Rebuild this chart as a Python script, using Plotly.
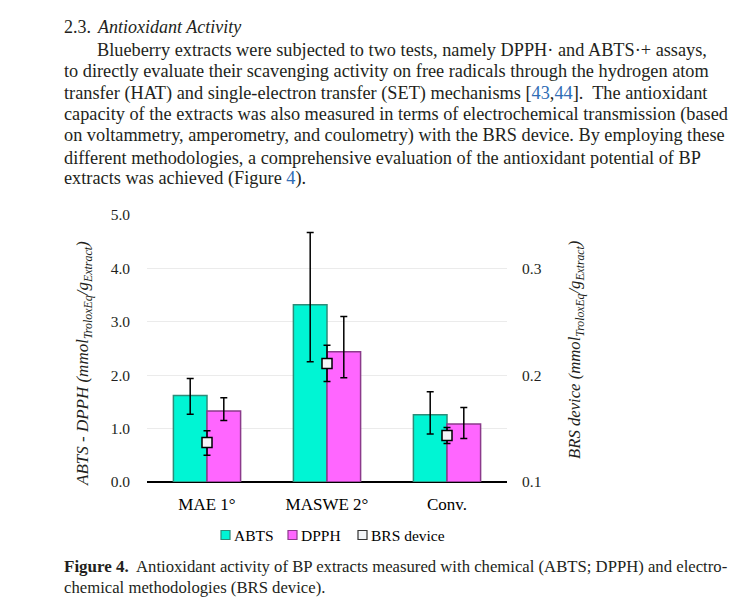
import plotly.graph_objects as go

categories = ["MAE 1°", "MASWE 2°", "Conv."]
series_names = ["ABTS", "DPPH", "BRS device"]
abts = [1.62, 3.32, 1.26]
abts_err_plus = [0.32, 1.35, 0.43]
abts_err_minus = [0.35, 1.07, 0.36]
dpph = [1.33, 2.44, 1.085]
dpph_err_plus = [0.25, 0.66, 0.31]
dpph_err_minus = [0.18, 0.49, 0.27]
brs = [0.137, 0.211, 0.1436]
brs_err_plus = [0.011, 0.017, 0.0075]
brs_err_minus = [0.012, 0.017, 0.0075]
left_ticks = [0.0, 1.0, 2.0, 3.0, 4.0, 5.0]
right_ticks = [0.1, 0.2, 0.3]

# page is offset by the default 8px body margin
OFF = 8
W, H = 745 - OFF, 606 - OFF
X0, X1, YT, YB = 147, 507, 215, 482   # plot area in page pixels
SERIF = "Liberation Serif"
INK = "#231F20"
LINK = "#2F6DB5"
COL_ABTS, EDGE_ABTS = "#00F5D4", "#2E8B78"
COL_DPPH, EDGE_DPPH = "#FF66FF", "#8B3A8B"
COL_BRS = "#F3F5F8"


def px(x):
    return (x - X0) / (X1 - X0)


def py(y):
    return (YB - y) / (YB - YT)


fig = go.Figure()
fig.add_trace(go.Bar(
    x=categories, y=abts, name=series_names[0],
    marker=dict(color=COL_ABTS, line=dict(color=EDGE_ABTS, width=1.5)),
    error_y=dict(type="data", array=abts_err_plus, arrayminus=abts_err_minus,
                 color="black", thickness=1.5, width=3.5),
))
fig.add_trace(go.Bar(
    x=categories, y=dpph, name=series_names[1],
    marker=dict(color=COL_DPPH, line=dict(color=EDGE_DPPH, width=1.5)),
    error_y=dict(type="data", array=dpph_err_plus, arrayminus=dpph_err_minus,
                 color="black", thickness=1.5, width=3.5),
))
fig.add_trace(go.Scatter(
    x=categories, y=brs, name=series_names[2], yaxis="y2", mode="markers",
    marker=dict(symbol="square", size=10, color=COL_BRS,
                line=dict(color="black", width=1.5)),
    error_y=dict(type="data", array=brs_err_plus, arrayminus=brs_err_minus,
                 color="black", thickness=1.5, width=3.5),
))

fig.update_layout(
    width=W, height=H,
    margin=dict(l=X0 - OFF, r=W - (X1 - OFF), t=YT - OFF, b=H - (YB - OFF)),
    paper_bgcolor="white", plot_bgcolor="white",
    font=dict(family=SERIF, color=INK, size=15),
    barmode="group", bargap=0.44, bargroupgap=0,
    xaxis=dict(showgrid=False, ticks="", showline=False,
               tickfont=dict(size=17, color="black"), ticklabelstandoff=10),
    yaxis=dict(range=[0, 5], tickvals=left_ticks, ticktext=[f"{v:.1f}" for v in left_ticks],
               showgrid=True, gridcolor="#EBEBEB", gridwidth=1,
               zeroline=True, zerolinecolor="black", zerolinewidth=1.5,
               showline=False, ticks="", ticklabelstandoff=16,
               tickfont=dict(size=15.5, color=INK)),
    yaxis2=dict(range=[0.1, 0.35], overlaying="y", side="right",
                tickvals=right_ticks, ticktext=[f"{v:.1f}" for v in right_ticks],
                showgrid=False, zeroline=False, showline=False, ticks="",
                ticklabelstandoff=14, tickfont=dict(size=15.5, color=INK)),
    showlegend=False,
)

annotations = []
shapes = []


def text(x, y, s, size=17, anchor="left", angle=0, color=INK, style="normal", weight="normal"):
    annotations.append(dict(
        xref="paper", yref="paper", x=px(x), y=py(y), text=s, showarrow=False,
        xanchor=anchor, yanchor="middle", textangle=angle,
        font=dict(family=SERIF, size=size, color=color, style=style, weight=weight),
    ))


text(62, 27, "2.3.", size=18)
text(95, 27, "Antioxidant Activity", size=18, style="italic")
body = [
    (95, "Blueberry extracts were subjected to two tests, namely DPPH· and ABTS·+ assays,"),
    (62, "to directly evaluate their scavenging activity on free radicals through the hydrogen atom"),
    (62, "transfer (HAT) and single-electron transfer (SET) mechanisms [<span style='color:%s'>43</span>,<span style='color:%s'>44</span>].  The antioxidant" % (LINK, LINK)),
    (62, "capacity of the extracts was also measured in terms of electrochemical transmission (based"),
    (62, "on voltammetry, amperometry, and coulometry) with the BRS device. By employing these"),
    (62, "different methodologies, a comprehensive evaluation of the antioxidant potential of BP"),
    (62, "extracts was achieved (Figure <span style='color:%s'>4</span>)." % LINK),
]
for i, (x, s) in enumerate(body):
    text(x, 50 + i * 21.5, s, size=18.3)

text(62, 566, "Figure 4.", size=17, weight="bold")
text(134, 566, "Antioxidant activity of BP extracts measured with chemical (ABTS; DPPH) and electro-", size=16.7)
text(62, 587, "chemical methodologies (BRS device).", size=16.7)

text(84, 364, "<i>ABTS - DPPH (mmol<sub>TroloxEq</sub>/g<sub>Extract</sub>)</i>", size=17, anchor="center", angle=-90)
text(576, 350, "<i>BRS device (mmol<sub>TroloxEq</sub>/g<sub>Extract</sub>)</i>", size=16.7, anchor="center", angle=-90)

# compact legend (symbol right next to its label, as in the reference)
legend_items = [
    (221, COL_ABTS, EDGE_ABTS, series_names[0]),
    (288, COL_DPPH, EDGE_DPPH, series_names[1]),
    (358, COL_BRS, "#333333", series_names[2]),
]
LEG_Y = 535
for x, fill, edge, name in legend_items:
    shapes.append(dict(type="rect", xref="paper", yref="paper",
                       x0=px(x), x1=px(x + 9), y0=py(LEG_Y + 4.5), y1=py(LEG_Y - 4.5),
                       fillcolor=fill, line=dict(color=edge, width=1.2)))
    text(x + 11, LEG_Y, name, size=15.5, color="black")

fig.update_layout(annotations=annotations, shapes=shapes)
fig.write_html("out.html")
